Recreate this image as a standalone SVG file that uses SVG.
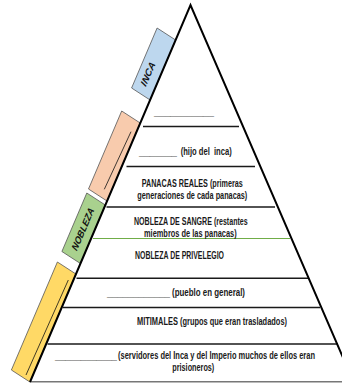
<svg xmlns="http://www.w3.org/2000/svg" width="342" height="383" viewBox="0 0 342 383">
<style>
.t{font-family:"Liberation Sans",Arial,sans-serif;font-weight:bold;font-size:10px;fill:#1a1a1a}
.u{font-family:"Liberation Sans",Arial,sans-serif;font-weight:bold;font-size:10px;fill:#1a1a1a}
.lab{font-family:"Liberation Sans",Arial,sans-serif;font-weight:bold;font-style:italic;font-size:9.5px;fill:#111}
.box{stroke:#555;stroke-width:0.8}
.hl{stroke:#1a1a1a;stroke-width:1.5}
.in{stroke:#111;stroke-width:0.8}
</style>
<rect width="342" height="383" fill="#fff"/>
<g id="inca">
<polygon class="box" fill="#bdd7ee" points="157.1,28 175.6,40 150.1,100 131.6,88"/>
<text class="lab" transform="matrix(0.392,-0.92,0.839,0.544,147.8,73.8)" text-anchor="middle" y="3.4" textLength="25" lengthAdjust="spacingAndGlyphs">INCA</text>
</g>
<g id="nobleza-peach">
<polygon class="box" fill="#f8cbad" points="121.7,111 140.2,123 107,201 88.5,189"/>
<line class="in" x1="131" y1="131.7" x2="104.3" y2="189.3"/>
</g>
<g id="nobleza">
<polygon class="box" fill="#a9d18e" points="86.8,193 105.3,205 80.4,263.5 61.9,251.5"/>
<text class="lab" transform="matrix(0.392,-0.92,0.839,0.544,82.8,229)" text-anchor="middle" y="3.4" textLength="45" lengthAdjust="spacingAndGlyphs">NOBLEZA</text>
</g>
<g id="pueblo-box">
<polygon class="box" fill="#ffd966" points="57.4,262 75.9,274 29.9,382 11.4,370"/>
<line class="in" x1="68.3" y1="280" x2="26" y2="375"/>
</g>
<g id="connectors">
<line class="hl" x1="143" y1="126.5" x2="239" y2="126.5"/>
<line class="hl" x1="126.5" y1="166.5" x2="255" y2="166.5"/>
<line class="hl" x1="106.5" y1="207" x2="275" y2="207"/>
<line stroke="#70ad47" stroke-width="1.2" x1="93" y1="238.5" x2="290" y2="238.5"/>
<line class="hl" x1="76.5" y1="278.3" x2="308" y2="278.3"/>
<line class="hl" x1="63" y1="307.5" x2="320" y2="307.5"/>
<line class="hl" x1="47.5" y1="344" x2="338" y2="344"/>
<line stroke="#777" stroke-width="1.5" x1="30" y1="381.8" x2="342" y2="381.8"/>
<polyline fill="none" stroke="#000" stroke-width="2" points="30,382 190.5,5 354,383"/>
</g>
<g id="level-inca">
<text class="u" x="154" y="114.5" textLength="60" lengthAdjust="spacingAndGlyphs">___________</text>
</g>
<g id="level-hijo">
<text class="u" x="139" y="154.5" textLength="38" lengthAdjust="spacingAndGlyphs">_______</text>
<text class="t" x="180.7" y="155" xml:space="preserve" textLength="51" lengthAdjust="spacingAndGlyphs">(hijo del  inca)</text>
</g>
<g id="level-panacas">
<text class="t" x="141.7" y="186.5" textLength="101" lengthAdjust="spacingAndGlyphs">PANACAS REALES (primeras</text>
<text class="t" x="137.3" y="198.5" textLength="110" lengthAdjust="spacingAndGlyphs">generaciones de cada panacas)</text>
</g>
<g id="level-sangre">
<text class="t" x="134" y="224.5" textLength="113.7" lengthAdjust="spacingAndGlyphs">NOBLEZA DE SANGRE (restantes</text>
<text class="t" x="144" y="236.5" textLength="92.7" lengthAdjust="spacingAndGlyphs">miembros de las panacas)</text>
</g>
<g id="level-privilegio">
<text class="t" x="135" y="258.5" textLength="89" lengthAdjust="spacingAndGlyphs">NOBLEZA DE PRIVELEGIO</text>
</g>
<g id="level-pueblo">
<text class="u" x="107" y="296.2" textLength="63" lengthAdjust="spacingAndGlyphs">____________</text>
<text class="t" x="172" y="296" textLength="73" lengthAdjust="spacingAndGlyphs">(pueblo en general)</text>
</g>
<g id="level-mitimales">
<text class="t" x="137" y="324.5" textLength="150" lengthAdjust="spacingAndGlyphs">MITIMALES (grupos que eran trasladados)</text>
</g>
<g id="level-servidores">
<text class="u" x="55" y="358.5" textLength="62" lengthAdjust="spacingAndGlyphs">____________</text>
<text class="t" x="118" y="359" textLength="197" lengthAdjust="spacingAndGlyphs">(servidores del Inca y del Imperio muchos de ellos eran</text>
<text class="t" x="172.3" y="371" textLength="42" lengthAdjust="spacingAndGlyphs">prisioneros)</text>
</g>
</svg>
